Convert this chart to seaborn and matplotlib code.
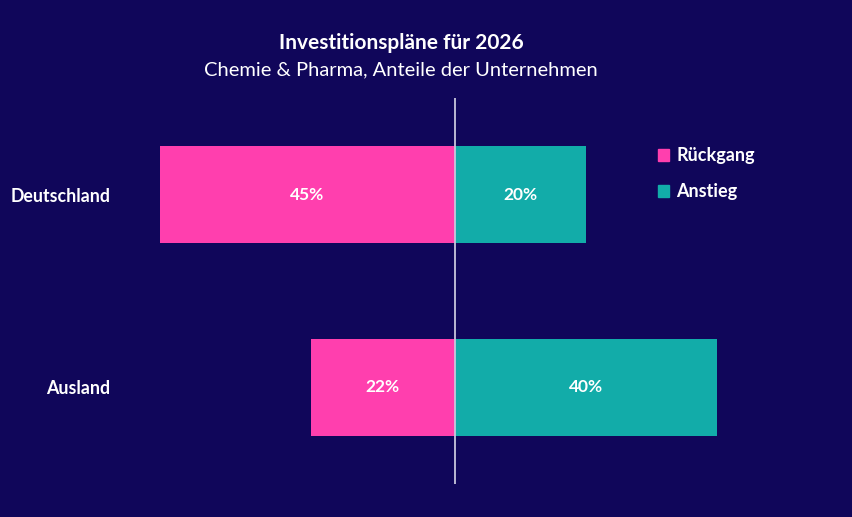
import seaborn as sns
import matplotlib.pyplot as plt
import pandas as pd

# data
regions = ["Deutschland", "Ausland"]
rueckgang = [45, 22]
anstieg = [20, 40]
series = ["Rückgang", "Anstieg"]

bg = "#10065a"
colors = {"Rückgang": "#ff3fae", "Anstieg": "#12aca9"}

df = pd.DataFrame({
    "region": regions * 2,
    "serie": [series[0]] * 2 + [series[1]] * 2,
    "wert": [-v for v in rueckgang] + anstieg,
})

sns.set_theme(style="white")
plt.rcParams["font.family"] = ["Lato", "DejaVu Sans"]

f = plt.figure(figsize=(8.53, 5.17), dpi=100)
f.patch.set_facecolor(bg)
ax = f.add_axes([127 / 853, 1 - 484 / 517, 656 / 853, 386 / 517])
ax.set_facecolor(bg)

sns.barplot(data=df, x="wert", y="region", hue="serie", palette=colors,
            dodge=False, width=0.5, orient="h", ax=ax, legend=False,
            linewidth=0, saturation=1)

for cont in ax.containers:
    ax.bar_label(cont, labels=[f"{abs(v):.0f}%" for v in cont.datavalues],
                 label_type="center", color="white", fontweight="bold",
                 fontsize=12.5)

ax.axvline(0, color="#c9c6dc", lw=1.3, zorder=5)
ax.set(xlim=(-50, 50), ylim=(1.5, -0.5), xlabel="", ylabel="")
ax.set_xticks([])
ax.tick_params(axis="y", length=0, pad=12, labelcolor="white")
for lab in ax.get_yticklabels():
    lab.set_fontweight("bold")
    lab.set_fontsize(12.8)
sns.despine(ax=ax, left=True, bottom=True)

# legend
handles = [plt.Rectangle((0, 0), 1, 1, color=colors[s]) for s in series]
leg = f.legend(handles, series, loc="upper left",
               bbox_to_anchor=(642 / 853, 1 - 131 / 517), frameon=False,
               handlelength=0.6, handleheight=0.6, handletextpad=0.4,
               labelspacing=1.05, prop={"weight": "bold", "size": 13})
for t in leg.get_texts():
    t.set_color("white")

f.text(0.47, 1 - 43 / 517, "Investitionspläne für 2026", ha="center",
       va="center", color="white", fontsize=15, fontweight="bold")
f.text(0.47, 1 - 70 / 517, "Chemie & Pharma, Anteile der Unternehmen",
       ha="center", va="center", color="white", fontsize=14.5)

f.savefig("out.png", dpi=100, facecolor=bg)
